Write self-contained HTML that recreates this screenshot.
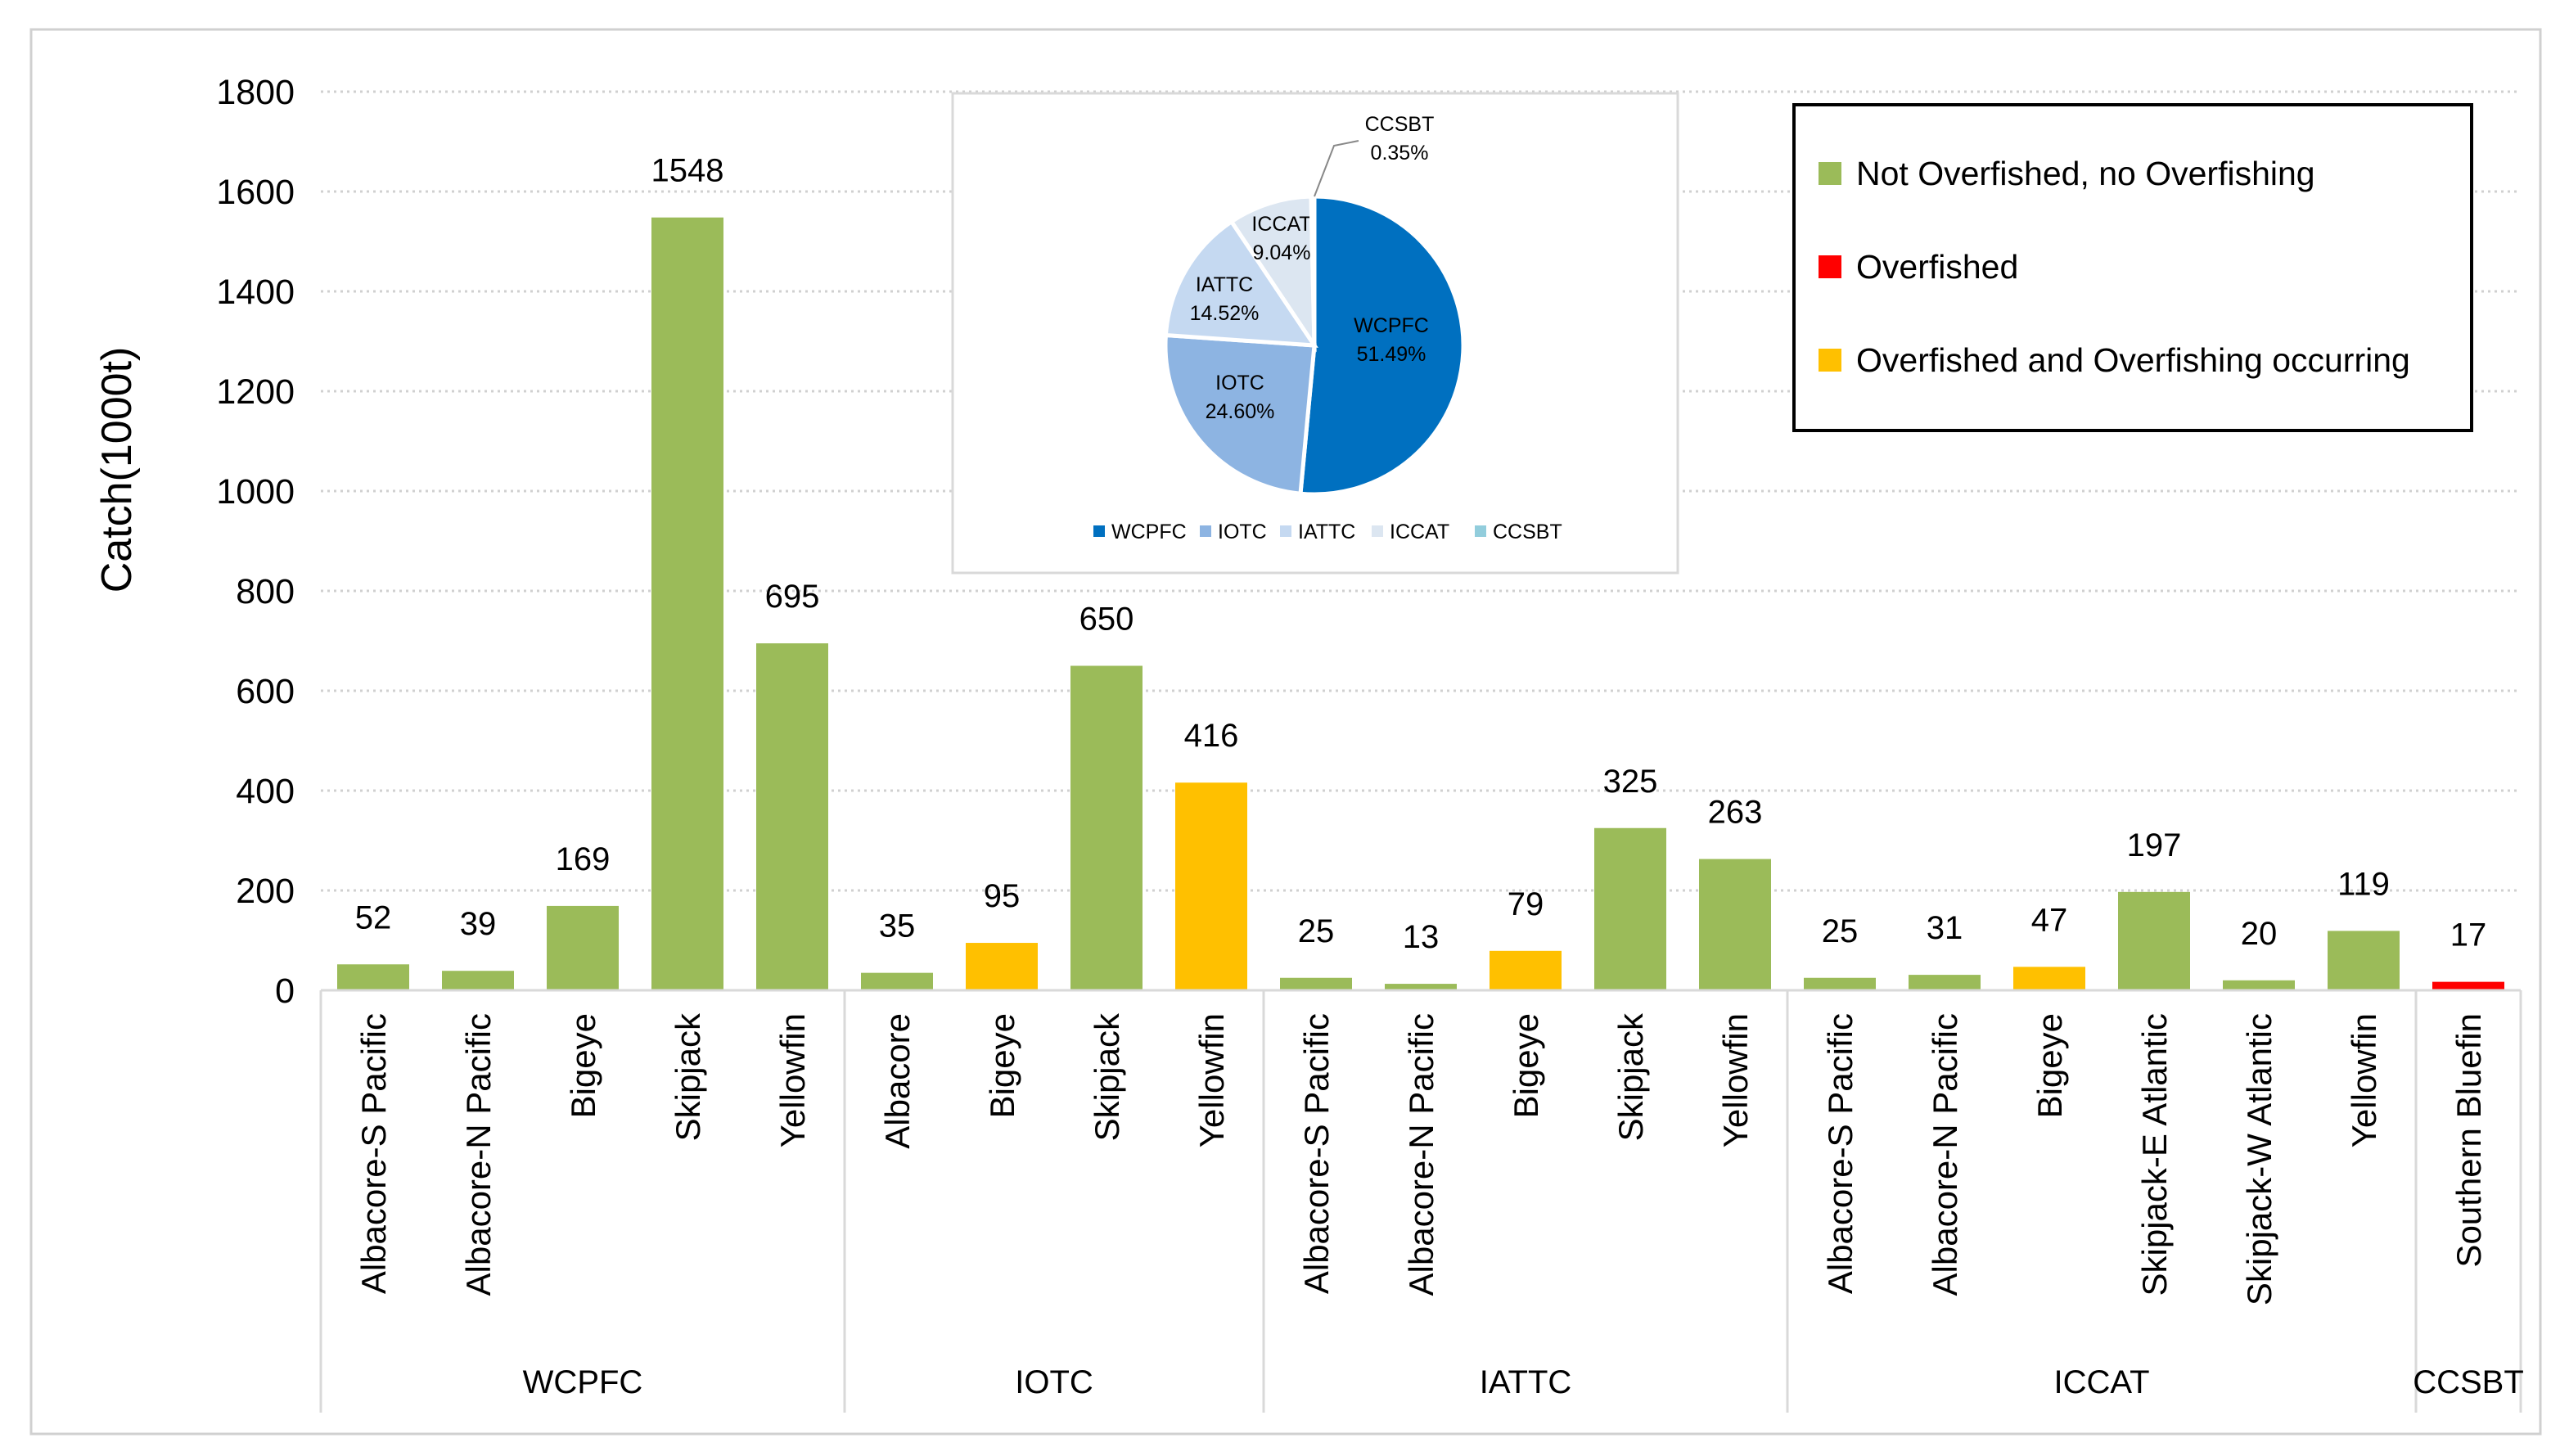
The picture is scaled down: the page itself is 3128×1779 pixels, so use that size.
<!DOCTYPE html>
<html><head><meta charset="utf-8"><style>
html,body{margin:0;padding:0;background:#fff}
svg{display:block;font-family:"Liberation Sans",sans-serif}
</style></head><body>
<svg id="c" width="3128" height="1779" viewBox="0 0 3128 1779" xmlns="http://www.w3.org/2000/svg">
<rect x="38" y="36" width="3066" height="1716" fill="#fff" stroke="#d0d0d0" stroke-width="3"/>
<g id="grid"></g><g id="bars"></g><g id="axis"></g>
<text transform="translate(160,574) rotate(-90)" text-anchor="middle" font-size="52" fill="#000">Catch(1000t)</text>
<g id="pie"></g>
<g>
<rect x="2192" y="128" width="828" height="398" fill="#fff" stroke="#000" stroke-width="4"/>
<rect x="2222" y="198" width="28" height="28" fill="#9BBB59"/>
<text x="2268" y="226" font-size="41">Not Overfished, no Overfishing</text>
<rect x="2222" y="312" width="28" height="28" fill="#FF0000"/>
<text x="2268" y="340" font-size="41">Overfished</text>
<rect x="2222" y="426" width="28" height="28" fill="#FFC000"/>
<text x="2268" y="454" font-size="41">Overfished and Overfishing occurring</text>
</g>
</svg>
<script>
const categories=["Albacore-S Pacific","Albacore-N Pacific","Bigeye","Skipjack","Yellowfin","Albacore","Bigeye","Skipjack","Yellowfin","Albacore-S Pacific","Albacore-N Pacific","Bigeye","Skipjack","Yellowfin","Albacore-S Pacific","Albacore-N Pacific","Bigeye","Skipjack-E Atlantic","Skipjack-W Atlantic","Yellowfin","Southern Bluefin"];
const catchValues=[52,39,169,1548,695,35,95,650,416,25,13,79,325,263,25,31,47,197,20,119,17];
const statuses=["g","g","g","g","g","g","y","g","y","g","g","y","g","g","g","g","y","g","g","g","r"];
const groups=["WCPFC","IOTC","IATTC","ICCAT","CCSBT"];
const groupSizes=[5,4,5,6,1];
const yTicks=[0,200,400,600,800,1000,1200,1400,1600,1800];
const pieLabels=["WCPFC","IOTC","IATTC","ICCAT","CCSBT"];
const pieValues=[51.49,24.60,14.52,9.04,0.35];

const NS="http://www.w3.org/2000/svg";
const colors={g:"#9BBB59",y:"#FFC000",r:"#FF0000"};
const pieColors=["#0070C0","#8DB4E2","#C5D9F1","#DCE6F1","#92CDDC"];
const pieLegendX=[1336,1466,1564,1676,1802];
const X0=392,BAND=128,Y0=1210,YMAX=1800,YTOP=112;
const y=v=>Y0-(v/YMAX)*(Y0-YTOP);
const x=i=>X0+i*BAND+BAND/2;
function mk(tag,attrs,parent,txt){const e=document.createElementNS(NS,tag);for(const k in attrs)e.setAttribute(k,attrs[k]);if(txt!==undefined)e.textContent=txt;parent.appendChild(e);return e;}
const grid=document.getElementById('grid'),bars=document.getElementById('bars'),axis=document.getElementById('axis');
const xEnd=X0+categories.length*BAND;
yTicks.forEach(t=>{
  if(t>0){const l=mk('line',{x1:X0,x2:xEnd,y1:y(t),y2:y(t),stroke:'#d0d0d0','stroke-width':3,'stroke-dasharray':'3 5'},grid);
  
  }
  const tx=mk('text',{x:360,y:y(t)+15,'text-anchor':'end','font-size':43},grid,String(t));
  
  
});
catchValues.forEach((v,i)=>{
  const r=mk('rect',{x:x(i)-44,y:y(v),width:88,height:Y0-y(v),fill:colors[statuses[i]]},bars);
  
  
  const t=mk('text',{x:x(i),y:y(v)-44,'text-anchor':'middle','font-size':40},bars,String(v));
  
  
  const c=mk('text',{transform:`translate(${x(i)+15},1238) rotate(-90)`,'text-anchor':'end','font-size':42},axis,categories[i]);
  
  
});
const al=mk('line',{x1:X0,x2:xEnd,y1:Y0,y2:Y0,stroke:'#d9d9d9','stroke-width':3},axis);


let start=0;
const sep=idx=>{const s=mk('line',{x1:X0+idx*BAND,x2:X0+idx*BAND,y1:Y0,y2:1726,stroke:'#d9d9d9','stroke-width':3},axis);
  
  };
sep(0);
groups.forEach((g,gi)=>{
  const end=start+groupSizes[gi];
  sep(end);
  const gt=mk('text',{x:X0+(start+end)/2*BAND,y:1702,'text-anchor':'middle','font-size':40},axis,g);
  
  
  start=end;
});
const pie=document.getElementById('pie');
const box=mk('rect',{x:1164,y:114,width:886,height:586,fill:'#fff',stroke:'#d9d9d9','stroke-width':3},pie);


const cx=1606,cy=422,R=182,tot=pieValues.reduce((a,b)=>a+b,0);
let ang=0;
const labelPos=[[1700,406],[1515,476],[1496,356],[1566,282]];
pieValues.forEach((v,i)=>{
  const a0=ang,a1=ang+v/tot*2*Math.PI;ang=a1;
  const p=(a)=>[cx+R*Math.sin(a),cy-R*Math.cos(a)];
  const [x0,y0]=p(a0),[x1,y1]=p(a1);
  const s=mk('path',{d:`M${cx},${cy}L${x0},${y0}A${R},${R} 0 ${a1-a0>Math.PI?1:0} 1 ${x1},${y1}Z`,fill:pieColors[i],stroke:'#fff','stroke-width':5},pie);
  
  
  const [lx,ly]=i<4?labelPos[i]:[1710,160];
  const t=mk('text',{x:lx,y:ly,'text-anchor':'middle','font-size':25},pie);
  
  
  mk('tspan',{x:lx,dy:0},t,pieLabels[i]);
  mk('tspan',{x:lx,dy:35},t,v.toFixed(2)+'%');
  const lg=mk('rect',{x:pieLegendX[i],y:642,width:14,height:14,fill:pieColors[i]},pie);
  
  
  const lt=mk('text',{x:pieLegendX[i]+22,y:658,'font-size':25},pie,pieLabels[i]);
  
  
});
const lead=mk('polyline',{points:'1606,240 1630,178 1660,172',fill:'none',stroke:'#888','stroke-width':2},pie);


</script>
</body></html>
